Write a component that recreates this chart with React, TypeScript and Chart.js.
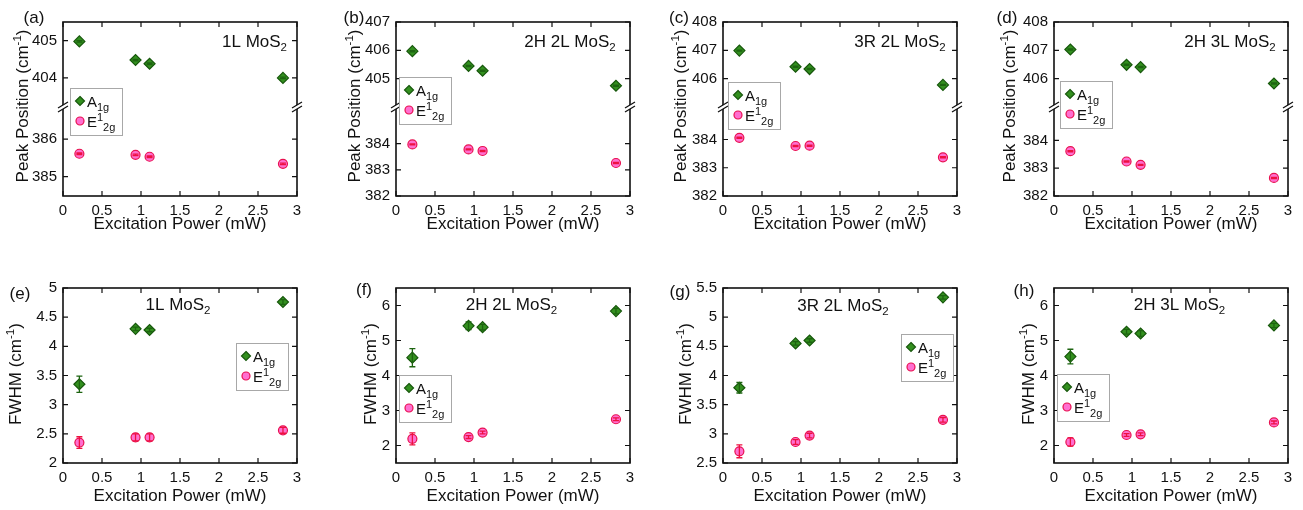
import React, { useEffect, useRef } from "react";
import { Chart, registerables } from "chart.js";

Chart.register(...registerables);

// ---------------- DATA ----------------
const POWER = [0.21, 0.93, 1.11, 2.82]; // excitation power (mW)
const X_TICKS = [0, 0.5, 1, 1.5, 2, 2.5, 3];

// Peak positions (cm^-1)
const PEAK_A_1L = [404.98, 404.48, 404.38, 404.0];
const PEAK_E_1L = [385.61, 385.58, 385.53, 385.34];
const PEAK_A_2H2L = [405.97, 405.45, 405.28, 404.75];
const PEAK_E_2H2L = [383.97, 383.78, 383.72, 383.26];
const PEAK_A_3R2L = [406.99, 406.42, 406.34, 405.78];
const PEAK_E_3R2L = [384.06, 383.77, 383.78, 383.37];
const PEAK_A_2H3L = [407.03, 406.49, 406.41, 405.83];
const PEAK_E_2H3L = [383.61, 383.24, 383.12, 382.65];
const PEAK_ERR_A = [0.02, 0.02, 0.02, 0.02];
const PEAK_ERR_E = [0.02, 0.02, 0.02, 0.02];

// Peak-position axis ranges / ticks (upper = A1g segment, lower = E12g segment)
const PEAK_UP_1L = [403.22, 405.5];
const PEAK_LO_1L = [384.48, 386.86];
const PEAK_UP_TICKS_1L = [404, 405];
const PEAK_LO_TICKS_1L = [385, 386];
const PEAK_UP_2H2L = [404, 407];
const PEAK_LO_2H2L = [382, 385.4];
const PEAK_UP_TICKS_2H2L = [405, 406, 407];
const PEAK_UP_3R2L = [405, 408];
const PEAK_LO_3R2L = [382, 385.15];
const PEAK_UP_2H3L = [405, 408];
const PEAK_LO_2H3L = [382, 385.2];
const PEAK_UP_TICKS_3 = [406, 407, 408];
const PEAK_LO_TICKS = [382, 383, 384];

// FWHM (cm^-1)
const FWHM_A_1L = [3.35, 4.3, 4.28, 4.76];
const FWHM_A_1L_ERR = [0.14, 0.03, 0.03, 0.04];
const FWHM_E_1L = [2.35, 2.44, 2.44, 2.56];
const FWHM_E_1L_ERR = [0.1, 0.06, 0.06, 0.05];
const FWHM_A_2H2L = [4.51, 5.42, 5.38, 5.84];
const FWHM_A_2H2L_ERR = [0.26, 0.11, 0.08, 0.08];
const FWHM_E_2H2L = [2.19, 2.24, 2.37, 2.75];
const FWHM_E_2H2L_ERR = [0.17, 0.04, 0.04, 0.04];
const FWHM_A_3R2L = [3.79, 4.55, 4.6, 5.34];
const FWHM_A_3R2L_ERR = [0.09, 0.03, 0.03, 0.03];
const FWHM_E_3R2L = [2.7, 2.86, 2.97, 3.24];
const FWHM_E_3R2L_ERR = [0.11, 0.04, 0.04, 0.04];
const FWHM_A_2H3L = [4.54, 5.25, 5.2, 5.43];
const FWHM_A_2H3L_ERR = [0.21, 0.07, 0.08, 0.06];
const FWHM_E_2H3L = [2.1, 2.3, 2.32, 2.66];
const FWHM_E_2H3L_ERR = [0.12, 0.04, 0.04, 0.04];

const FWHM_RANGE_1L = [2, 5];
const FWHM_TICKS_1L = [2, 2.5, 3, 3.5, 4, 4.5, 5];
const FWHM_RANGE_2L = [1.5, 6.5];
const FWHM_TICKS_INT = [2, 3, 4, 5, 6];
const FWHM_RANGE_3R = [2.5, 5.5];
const FWHM_TICKS_3R = [2.5, 3, 3.5, 4, 4.5, 5, 5.5];

const LETTERS = ["(a)", "(b)", "(c)", "(d)", "(e)", "(f)", "(g)", "(h)"];
const SAMPLES = ["1L MoS", "2H 2L MoS", "3R 2L MoS", "2H 3L MoS"];

// ---------------- STYLE / LAYOUT ----------------
const W = 1303;
const H = 510;
const FONT = '"Liberation Sans", Arial, Helvetica, sans-serif';
const TEXT = "#111111";
const AXIS = "#111111";
const A_FILL = "#33901f";
const A_EDGE = "#17570c";
const A_ERR = "#1d6410";
const E_FILL = "#ff6fd0";
const E_EDGE = "#e8104f";
const E_ERR = "#ee1040";
const YW = 40;
const XH = 24;
const TL = 5;
const TICK_FS = 15;
const TITLE_FS = 17;

type Lay = {
  plot: number[];
  brk?: number;
  label: number[];
  ytitle: number[];
  annot: number[];
  legend: number[];
};

const LAYOUTS: Lay[] = [
  { plot: [63, 22, 297, 196], brk: 107, label: [34, 17], ytitle: [22, 106], annot: [254.5, 41], legend: [70, 88] },
  { plot: [396, 22, 630, 196], brk: 107, label: [354, 17], ytitle: [354, 106], annot: [570, 41], legend: [399, 77] },
  { plot: [723, 22, 957, 196], brk: 107, label: [679, 17], ytitle: [680, 106], annot: [900, 41], legend: [728, 82] },
  { plot: [1054, 22, 1288, 196], brk: 107, label: [1007, 17], ytitle: [1009, 106], annot: [1230, 41], legend: [1060, 81] },
  { plot: [63, 288, 297, 463], label: [20, 292.5], ytitle: [15, 374], annot: [178, 304], legend: [236, 343] },
  { plot: [396, 288, 630, 463], label: [364, 289], ytitle: [370, 374], annot: [511.5, 304], legend: [399, 375] },
  { plot: [723, 288, 957, 463], label: [680, 290.5], ytitle: [685, 374], annot: [843, 305], legend: [901, 334] },
  { plot: [1054, 288, 1288, 463], label: [1024, 289.5], ytitle: [1028, 374], annot: [1179.5, 304], legend: [1057, 374] },
];

type Cfg = {
  kind: "peak" | "fwhm";
  sample: string;
  a: number[];
  aErr: number[];
  e: number[];
  eErr: number[];
  up?: number[];
  upTicks?: number[];
  lo?: number[];
  loTicks?: number[];
  range?: number[];
  ticks?: number[];
};

const PANELS: Cfg[] = [
  { kind: "peak", sample: SAMPLES[0], a: PEAK_A_1L, aErr: PEAK_ERR_A, e: PEAK_E_1L, eErr: PEAK_ERR_E, up: PEAK_UP_1L, upTicks: PEAK_UP_TICKS_1L, lo: PEAK_LO_1L, loTicks: PEAK_LO_TICKS_1L },
  { kind: "peak", sample: SAMPLES[1], a: PEAK_A_2H2L, aErr: PEAK_ERR_A, e: PEAK_E_2H2L, eErr: PEAK_ERR_E, up: PEAK_UP_2H2L, upTicks: PEAK_UP_TICKS_2H2L, lo: PEAK_LO_2H2L, loTicks: PEAK_LO_TICKS },
  { kind: "peak", sample: SAMPLES[2], a: PEAK_A_3R2L, aErr: PEAK_ERR_A, e: PEAK_E_3R2L, eErr: PEAK_ERR_E, up: PEAK_UP_3R2L, upTicks: PEAK_UP_TICKS_3, lo: PEAK_LO_3R2L, loTicks: PEAK_LO_TICKS },
  { kind: "peak", sample: SAMPLES[3], a: PEAK_A_2H3L, aErr: PEAK_ERR_A, e: PEAK_E_2H3L, eErr: PEAK_ERR_E, up: PEAK_UP_2H3L, upTicks: PEAK_UP_TICKS_3, lo: PEAK_LO_2H3L, loTicks: PEAK_LO_TICKS },
  { kind: "fwhm", sample: SAMPLES[0], a: FWHM_A_1L, aErr: FWHM_A_1L_ERR, e: FWHM_E_1L, eErr: FWHM_E_1L_ERR, range: FWHM_RANGE_1L, ticks: FWHM_TICKS_1L },
  { kind: "fwhm", sample: SAMPLES[1], a: FWHM_A_2H2L, aErr: FWHM_A_2H2L_ERR, e: FWHM_E_2H2L, eErr: FWHM_E_2H2L_ERR, range: FWHM_RANGE_2L, ticks: FWHM_TICKS_INT },
  { kind: "fwhm", sample: SAMPLES[2], a: FWHM_A_3R2L, aErr: FWHM_A_3R2L_ERR, e: FWHM_E_3R2L, eErr: FWHM_E_3R2L_ERR, range: FWHM_RANGE_3R, ticks: FWHM_TICKS_3R },
  { kind: "fwhm", sample: SAMPLES[3], a: FWHM_A_2H3L, aErr: FWHM_A_2H3L_ERR, e: FWHM_E_2H3L, eErr: FWHM_E_2H3L_ERR, range: FWHM_RANGE_2L, ticks: FWHM_TICKS_INT },
];

// ---------------- DRAW HELPERS ----------------
type Seg = { t: string; s: number; dy?: number };

function richWidth(ctx: CanvasRenderingContext2D, segs: Seg[]) {
  let w = 0;
  for (const g of segs) {
    ctx.font = `${g.s}px ${FONT}`;
    w += ctx.measureText(g.t).width;
  }
  return w;
}

function drawRich(ctx: CanvasRenderingContext2D, segs: Seg[], x: number, y: number, align: "left" | "center" | "right") {
  const w = richWidth(ctx, segs);
  let cx = align === "center" ? x - w / 2 : align === "right" ? x - w : x;
  ctx.textAlign = "left";
  ctx.textBaseline = "alphabetic";
  ctx.fillStyle = TEXT;
  for (const g of segs) {
    ctx.font = `${g.s}px ${FONT}`;
    ctx.fillText(g.t, cx, y + (g.dy || 0));
    cx += ctx.measureText(g.t).width;
  }
}

function diamond(ctx: CanvasRenderingContext2D, x: number, y: number, r: number) {
  ctx.beginPath();
  ctx.moveTo(x, y - r);
  ctx.lineTo(x + r, y);
  ctx.lineTo(x, y + r);
  ctx.lineTo(x - r, y);
  ctx.closePath();
  ctx.fillStyle = A_FILL;
  ctx.fill();
  ctx.strokeStyle = A_EDGE;
  ctx.lineWidth = 1.2;
  ctx.stroke();
}

function circle(ctx: CanvasRenderingContext2D, x: number, y: number, r: number) {
  ctx.beginPath();
  ctx.arc(x, y, r, 0, Math.PI * 2);
  ctx.fillStyle = E_FILL;
  ctx.fill();
  ctx.strokeStyle = E_EDGE;
  ctx.lineWidth = 1.2;
  ctx.stroke();
}

function drawBreak(ctx: CanvasRenderingContext2D, x: number, by: number) {
  const hw = 5;
  const s = 3;
  const g = 2;
  ctx.beginPath();
  ctx.moveTo(x - hw, by - g + s);
  ctx.lineTo(x + hw, by - g - s);
  ctx.lineTo(x + hw, by + g - s);
  ctx.lineTo(x - hw, by + g + s);
  ctx.closePath();
  ctx.fillStyle = "#ffffff";
  ctx.fill();
  ctx.beginPath();
  ctx.moveTo(x - hw, by - g + s);
  ctx.lineTo(x + hw, by - g - s);
  ctx.moveTo(x - hw, by + g + s);
  ctx.lineTo(x + hw, by + g - s);
  ctx.strokeStyle = AXIS;
  ctx.lineWidth = 1.3;
  ctx.stroke();
}

function makeDecor(p: Cfg, lay: Lay, idx: number) {
  const broken = p.kind === "peak";
  const yIds = broken ? ["yU", "yL"] : ["y"];
  return {
    id: "decor" + idx,
    afterDatasetsDraw(chart: any) {
      const ctx: CanvasRenderingContext2D = chart.ctx;
      ctx.save();
      chart.data.datasets.forEach((ds: any, i: number) => {
        const meta = chart.getDatasetMeta(i);
        const xs = chart.scales[meta.xAxisID];
        const ys = chart.scales[meta.yAxisID];
        ctx.strokeStyle = ds.errColor;
        ctx.lineWidth = 1.3;
        ds.data.forEach((pt: any, j: number) => {
          const e = ds.errors[j];
          const px = xs.getPixelForValue(pt.x);
          const y1 = ys.getPixelForValue(pt.y + e);
          const y2 = ys.getPixelForValue(pt.y - e);
          ctx.beginPath();
          ctx.moveTo(px, y1);
          ctx.lineTo(px, y2);
          ctx.moveTo(px - 3, y1);
          ctx.lineTo(px + 3, y1);
          ctx.moveTo(px - 3, y2);
          ctx.lineTo(px + 3, y2);
          ctx.stroke();
        });
      });
      ctx.restore();
    },
    afterDraw(chart: any) {
      const ctx: CanvasRenderingContext2D = chart.ctx;
      const { left, right, top, bottom } = chart.chartArea;
      ctx.save();
      // box
      ctx.strokeStyle = AXIS;
      ctx.lineWidth = 1.6;
      ctx.strokeRect(left, top, right - left, bottom - top);
      // inward ticks
      ctx.lineWidth = 1.2;
      ctx.beginPath();
      const xs = chart.scales.x;
      xs.ticks.forEach((t: any) => {
        const px = xs.getPixelForValue(t.value);
        ctx.moveTo(px, bottom);
        ctx.lineTo(px, bottom - TL);
        ctx.moveTo(px, top);
        ctx.lineTo(px, top + TL);
      });
      yIds.forEach((id) => {
        const s = chart.scales[id];
        s.ticks.forEach((t: any) => {
          const py = s.getPixelForValue(t.value);
          ctx.moveTo(left, py);
          ctx.lineTo(left + TL, py);
          ctx.moveTo(right, py);
          ctx.lineTo(right - TL, py);
        });
      });
      ctx.stroke();
      // axis break
      if (broken) {
        const by = chart.scales.yU.bottom;
        drawBreak(ctx, left, by);
        drawBreak(ctx, right, by);
      }
      // x title
      drawRich(ctx, [{ t: "Excitation Power (mW)", s: TITLE_FS }], (left + right) / 2, broken ? 228.5 : 501, "center");
      // y title
      ctx.save();
      ctx.translate(lay.ytitle[0], lay.ytitle[1]);
      ctx.rotate(-Math.PI / 2);
      drawRich(
        ctx,
        [
          { t: broken ? "Peak Position (cm" : "FWHM (cm", s: TITLE_FS },
          { t: "-1", s: 11.5, dy: -7 },
          { t: ")", s: TITLE_FS },
        ],
        0,
        6,
        "center"
      );
      ctx.restore();
      // panel letter
      drawRich(ctx, [{ t: LETTERS[idx], s: TITLE_FS }], lay.label[0], lay.label[1] + 6, "center");
      // sample annotation
      drawRich(ctx, [{ t: p.sample, s: TITLE_FS }, { t: "2", s: 11.5, dy: 4 }], lay.annot[0], lay.annot[1] + 6, "center");
      // legend
      const [lx, ly] = lay.legend;
      ctx.fillStyle = "#ffffff";
      ctx.fillRect(lx, ly, 52, 47);
      ctx.strokeStyle = "#a8a8a8";
      ctx.lineWidth = 1;
      ctx.strokeRect(lx + 0.5, ly + 0.5, 52, 47);
      diamond(ctx, lx + 10, ly + 13, 4.5);
      drawRich(ctx, [{ t: "A", s: TICK_FS }, { t: "1g", s: 11, dy: 4 }], lx + 17, ly + 18.5, "left");
      circle(ctx, lx + 10, ly + 33, 4);
      drawRich(
        ctx,
        [
          { t: "E", s: TICK_FS },
          { t: "1", s: 11, dy: -6 },
          { t: "2g", s: 11, dy: 4 },
        ],
        lx + 17,
        ly + 38.5,
        "left"
      );
      ctx.restore();
    },
  };
}

function yScale(min: number, max: number, ticks: number[]) {
  return {
    type: "linear",
    position: "left",
    min,
    max,
    afterBuildTicks: (s: any) => {
      s.ticks = ticks.map((v) => ({ value: v }));
    },
    afterFit: (s: any) => {
      s.width = YW;
    },
    grid: { display: false, drawTicks: false },
    border: { display: false },
    ticks: {
      font: { family: FONT, size: TICK_FS },
      color: TEXT,
      padding: 6,
      autoSkip: false,
      callback: (v: any) => String(v),
    },
  };
}

function buildConfig(p: Cfg, lay: Lay, idx: number): any {
  const [L, T, R, B] = lay.plot;
  const broken = p.kind === "peak";
  const scales: any = {
    x: {
      type: "linear",
      position: "bottom",
      min: 0,
      max: 3,
      afterBuildTicks: (s: any) => {
        s.ticks = X_TICKS.map((v) => ({ value: v }));
      },
      afterFit: (s: any) => {
        s.height = XH;
      },
      grid: { display: false, drawTicks: false },
      border: { display: false },
      ticks: {
        font: { family: FONT, size: TICK_FS },
        color: TEXT,
        padding: 6,
        autoSkip: false,
        maxRotation: 0,
        callback: (v: any) => String(v),
      },
    },
  };
  if (broken) {
    scales.yU = { ...yScale(p.up![0], p.up![1], p.upTicks!), stack: "y", stackWeight: lay.brk! - T, weight: 2 };
    scales.yL = { ...yScale(p.lo![0], p.lo![1], p.loTicks!), stack: "y", stackWeight: B - lay.brk!, weight: 1 };
  } else {
    scales.y = yScale(p.range![0], p.range![1], p.ticks!);
  }
  return {
    type: "scatter",
    data: {
      datasets: [
        {
          label: "A1g",
          data: POWER.map((x, i) => ({ x, y: p.a[i] })),
          yAxisID: broken ? "yU" : "y",
          pointStyle: "rectRot",
          pointRadius: 5.5,
          backgroundColor: A_FILL,
          borderColor: A_EDGE,
          pointBorderWidth: 1.2,
          showLine: false,
          errors: p.aErr,
          errColor: A_ERR,
        },
        {
          label: "E12g",
          data: POWER.map((x, i) => ({ x, y: p.e[i] })),
          yAxisID: broken ? "yL" : "y",
          pointStyle: "circle",
          pointRadius: 4.5,
          backgroundColor: E_FILL,
          borderColor: E_EDGE,
          pointBorderWidth: 1.2,
          showLine: false,
          errors: p.eErr,
          errColor: E_ERR,
        },
      ],
    },
    options: {
      animation: false,
      responsive: false,
      devicePixelRatio: 1,
      events: [],
      layout: { padding: { left: L - YW, top: T, right: W - R, bottom: H - B - XH } },
      plugins: { legend: { display: false }, tooltip: { enabled: false } },
      scales,
    },
    plugins: [makeDecor(p, lay, idx)],
  };
}

function Panel({ idx }: { idx: number }) {
  const ref = useRef<HTMLCanvasElement>(null);
  useEffect(() => {
    if (!ref.current) return;
    const chart = new Chart(ref.current, buildConfig(PANELS[idx], LAYOUTS[idx], idx));
    return () => chart.destroy();
  }, [idx]);
  return (
    <canvas
      ref={ref}
      width={W}
      height={H}
      style={{ position: "absolute", left: 0, top: 0, width: W, height: H }}
    />
  );
}

export default function App() {
  return (
    <div style={{ position: "absolute", left: 0, top: 0, width: W, height: H, background: "#ffffff", overflow: "hidden" }}>
      {PANELS.map((_, i) => (
        <Panel key={i} idx={i} />
      ))}
    </div>
  );
}
